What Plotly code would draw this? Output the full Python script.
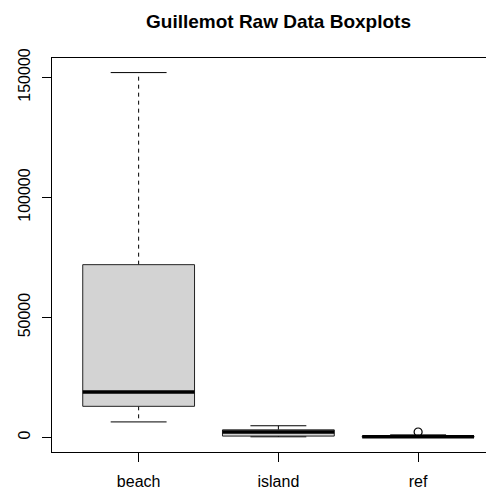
import plotly.graph_objects as go

categories = ["beach", "island", "ref"]
lower_whisker = [6500, 300, 50]
q1 = [13000, 600, 150]
median = [19000, 2300, 350]
q3 = [72000, 3200, 550]
upper_whisker = [152000, 4900, 1100]
outlier_group = ["ref"]
outlier_value = [2300]
y_ticks = [0, 50000, 100000, 150000]

BOX_HALF = 0.4
CAP_HALF = 0.2

# the page body has an 8px margin; size the figure so it fills the window
OFF = 8
W, H = 494 - OFF, 491 - OFF

fig = go.Figure()
for i, cat in enumerate(categories):
    x = i + 1
    # dashed whiskers
    fig.add_trace(go.Scatter(
        x=[x, x, None, x, x],
        y=[q3[i], upper_whisker[i], None, q1[i], lower_whisker[i]],
        mode="lines", line=dict(color="black", width=1, dash="4px,4px"),
        hoverinfo="skip", showlegend=False))
    # caps
    fig.add_trace(go.Scatter(
        x=[x - CAP_HALF, x + CAP_HALF, None, x - CAP_HALF, x + CAP_HALF],
        y=[upper_whisker[i], upper_whisker[i], None, lower_whisker[i], lower_whisker[i]],
        mode="lines", line=dict(color="black", width=1),
        hoverinfo="skip", showlegend=False))
    # box
    fig.add_trace(go.Scatter(
        x=[x - BOX_HALF, x + BOX_HALF, x + BOX_HALF, x - BOX_HALF, x - BOX_HALF],
        y=[q1[i], q1[i], q3[i], q3[i], q1[i]],
        mode="lines", fill="toself", fillcolor="#D3D3D3",
        line=dict(color="#222222", width=1),
        hoverinfo="skip", showlegend=False))
    # median
    fig.add_trace(go.Scatter(
        x=[x - BOX_HALF, x + BOX_HALF], y=[median[i], median[i]],
        mode="lines", line=dict(color="black", width=3.5),
        hoverinfo="skip", showlegend=False))

fig.add_trace(go.Scatter(
    x=[categories.index(g) + 1 for g in outlier_group], y=outlier_value,
    mode="markers",
    marker=dict(symbol="circle-open", size=8, color="black", line=dict(width=1.2)),
    hoverinfo="skip", showlegend=False))

all_vals = lower_whisker + upper_whisker + outlier_value
lo, hi = min(all_vals), max(all_vals)
pad = 0.04 * (hi - lo)

fig.update_layout(
    width=W, height=H,
    margin=dict(l=52 - OFF, r=0, t=58 - OFF, b=39, autoexpand=False),
    paper_bgcolor="white", plot_bgcolor="white",
    font=dict(family="Liberation Sans, Arial, sans-serif", size=16, color="black"),
    title=dict(text="<b>Guillemot Raw Data Boxplots</b>", x=(278.5 - OFF) / W, xanchor="center",
               xref="container", y=1 - (21 - OFF) / H, yanchor="middle", yref="container",
               font=dict(size=19, color="black")),
    xaxis=dict(range=[0.38, 3.543], tickvals=[1, 2, 3], ticktext=categories,
               showgrid=False, zeroline=False, showline=True, mirror=True,
               linecolor="black", linewidth=1, ticks="outside", ticklen=9,
               tickcolor="black", ticklabelstandoff=6, automargin=False),
    yaxis=dict(range=[lo - pad, hi + pad], tickvals=y_ticks,
               ticktext=[str(v) for v in y_ticks], tickangle=-90,
               showgrid=False, zeroline=False, showline=True, mirror=False,
               linecolor="black", linewidth=1, ticks="outside", ticklen=9,
               tickcolor="black", ticklabelstandoff=6, automargin=False),
)

fig.write_html("out.html")
